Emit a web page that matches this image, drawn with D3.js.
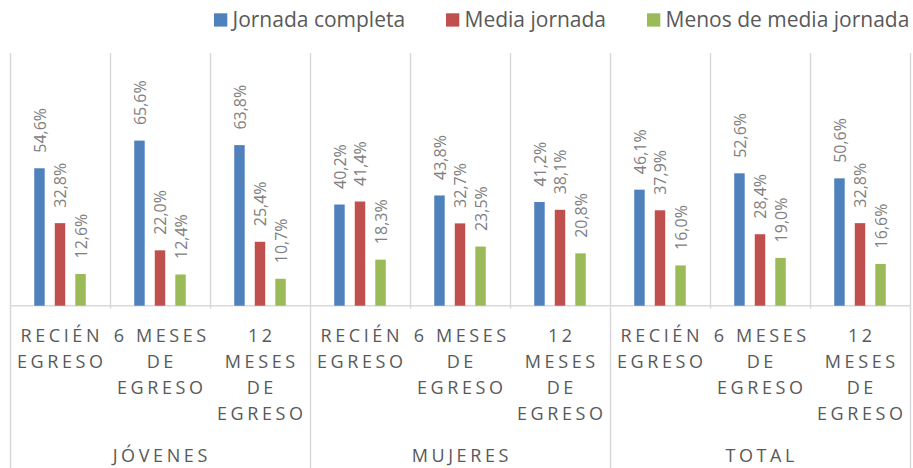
<!DOCTYPE html>
<html>
<head>
<meta charset="utf-8">
<script src="https://cdn.jsdelivr.net/npm/d3@7"></script>
<style>
  html, body { margin: 0; padding: 0; background: #fff; }
  svg { display: block; }
  text { font-family: "Open Sans", "Liberation Sans", sans-serif; }
</style>
</head>
<body>
<svg id="chart" width="913" height="468"></svg>
<script>
// ---- data ----
const groups = ["JÓVENES", "MUJERES", "TOTAL"];
const periods = ["RECIÉN EGRESO", "6 MESES DE EGRESO", "12 MESES DE EGRESO"];
const periodLines = [["RECIÉN", "EGRESO"], ["6 MESES", "DE", "EGRESO"], ["12", "MESES", "DE", "EGRESO"]];
const seriesNames = ["Jornada completa", "Media jornada", "Menos de media jornada"];
const seriesColors = ["#4f81bd", "#c0504d", "#9bbb59"];
// values per category in order: JÓVENES x3, MUJERES x3, TOTAL x3
const jornadaCompleta = [54.6, 65.6, 63.8, 40.2, 43.8, 41.2, 46.1, 52.6, 50.6];
const mediaJornada    = [32.8, 22.0, 25.4, 41.4, 32.7, 38.1, 37.9, 28.4, 32.8];
const menosMedia      = [12.6, 12.4, 10.7, 18.3, 23.5, 20.8, 16.0, 19.0, 16.6];
const seriesValues = [jornadaCompleta, mediaJornada, menosMedia];

// ---- build categories ----
const categories = [];
groups.forEach(g => periods.forEach((p, j) => categories.push({ key: g + "|" + p, group: g, lines: periodLines[j] })));

const svg = d3.select("#chart");
const plotTop = 53, baseY = 305.7, left = 10, right = 910;

const x = d3.scaleBand().domain(categories.map(c => c.key)).range([left, right]).paddingInner(0).paddingOuter(0);
const xs = d3.scaleBand().domain(seriesNames).range([0, x.bandwidth()]).paddingInner(0.49).paddingOuter(1.18);
const y = d3.scaleLinear().domain([0, 100]).range([baseY, 54]);
const gx = d3.scaleBand().domain(groups).range([left, right]);

const gridColor = "#d9d9d9";

// minor dividers (category boundaries)
const bounds = categories.map(c => x(c.key)).concat([right]);
svg.append("g").selectAll("line").data(bounds).join("line")
  .attr("x1", d => Math.round(d) + 0.5).attr("x2", d => Math.round(d) + 0.5)
  .attr("y1", plotTop).attr("y2", (d, i) => (i % 3 === 0) ? 468 : baseY + 3)
  .attr("stroke", gridColor).attr("stroke-width", 1.5);

// baseline
svg.append("line").attr("x1", left).attr("x2", right).attr("y1", baseY).attr("y2", baseY)
  .attr("stroke", gridColor).attr("stroke-width", 1.5);

// bars
const barData = [];
categories.forEach((c, i) => seriesNames.forEach((s, k) => barData.push({ cat: c.key, series: s, k, value: seriesValues[k][i] })));

svg.append("g").selectAll("rect").data(barData).join("rect")
  .attr("x", d => x(d.cat) + xs(d.series))
  .attr("width", xs.bandwidth())
  .attr("y", d => y(d.value))
  .attr("height", d => baseY - y(d.value))
  .attr("fill", d => seriesColors[d.k]);

// value labels
const fmt = v => v.toFixed(1).replace(".", ",") + "%";
svg.append("g").selectAll("text").data(barData).join("text")
  .attr("transform", d => `translate(${x(d.cat) + xs(d.series) + xs.bandwidth() / 2},${y(d.value) - 15.5}) rotate(-90)`)
  .attr("dy", "0.38em")
  .attr("text-anchor", "start")
  .attr("font-size", 16)
  .attr("fill", "#808080")
  .text(d => fmt(d.value));

// category labels
const catG = svg.append("g");
categories.forEach(c => {
  const t = catG.append("text")
    .attr("text-anchor", "middle")
    .attr("font-size", 18)
    .attr("letter-spacing", 3.6)
    .attr("fill", "#595959");
  c.lines.forEach((ln, i) => {
    t.append("tspan").attr("x", x(c.key) + x.bandwidth() / 2 + 1.8).attr("y", 341.5 + i * 26).text(ln);
  });
});

// group labels
svg.append("g").selectAll("text").data(groups).join("text")
  .attr("x", d => gx(d) + gx.bandwidth() / 2 + 1.8)
  .attr("y", 461.5)
  .attr("text-anchor", "middle")
  .attr("font-size", 18)
  .attr("letter-spacing", 3.6)
  .attr("fill", "#595959")
  .text(d => d);

// legend
const legendX = [214, 446, 647];
const lg = svg.append("g").selectAll("g").data(seriesNames).join("g")
  .attr("transform", (d, i) => `translate(${legendX[i]},0)`);
lg.append("rect").attr("x", 0).attr("y", 13.3).attr("width", 13.3).attr("height", 13.3)
  .attr("fill", (d, i) => seriesColors[i]);
lg.append("text").attr("x", 18.5).attr("y", 27)
  .attr("font-size", 21).attr("fill", "#595959").text(d => d);
</script>
</body>
</html>
